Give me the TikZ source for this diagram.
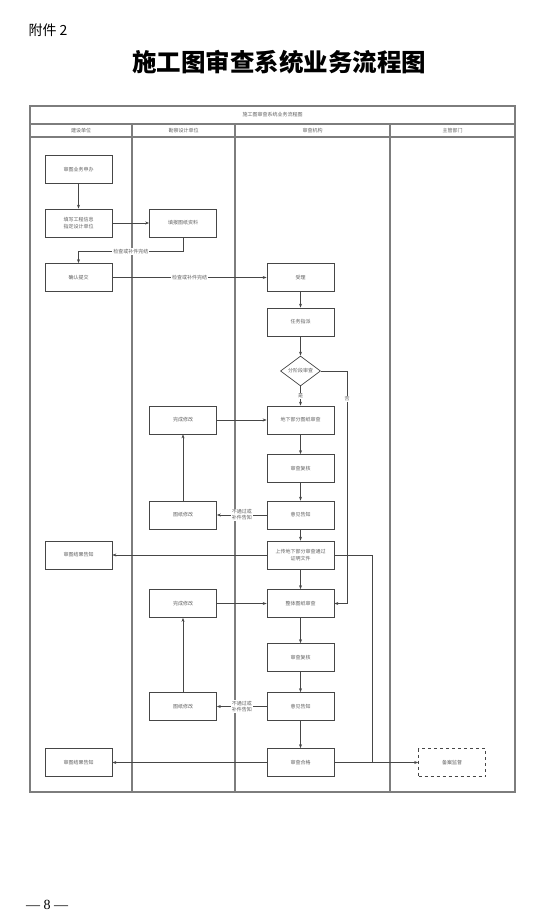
\documentclass[tikz,border=0pt]{standalone}
\usepackage{fontspec}
\setmainfont{Liberation Serif}
\newfontfamily\cjk{Noto Sans CJK SC}
\usetikzlibrary{shapes.geometric, arrows.meta, positioning, calc}
\definecolor{laneline}{RGB}{125,125,125}
\definecolor{boxline}{RGB}{70,70,70}
\definecolor{boxtext}{RGB}{95,95,95}
\tikzset{
    lane/.style={draw=laneline, line width=1.1pt},
    box/.style={draw=boxline, line width=0.7pt, minimum width=67pt, minimum height=28pt,
                inner sep=1pt, align=center, text=boxtext, font=\cjk\fontsize{5}{6.5}\selectfont},
    arr/.style={draw=boxline, line width=0.6pt, -{Stealth[length=4pt,width=3pt]}},
    conn/.style={draw=boxline, line width=0.6pt},
    lbl/.style={fill=white, inner sep=1pt, align=center, text=boxtext, font=\cjk\fontsize{5}{6}\selectfont},
    lanehead/.style={text=boxtext, font=\cjk\fontsize{5}{6}\selectfont}
}

\begin{document}
\begin{tikzpicture}[x=1pt, y=-1pt]
    \useasboundingbox (0,0) rectangle (534,920);

    % page heading
    \node[font=\cjk\fontsize{14}{16}\selectfont] (fujian) at (48,30) {附件 2};
    \node[font=\cjk\bfseries\fontsize{24.5}{28}\selectfont] (bigtitle) at (279,62) {施工图审查系统业务流程图};

    % swimlane frame
    \draw[lane] (30,106) rectangle (515,792);
    \draw[lane] (30,124) -- (515,124);
    \draw[lane, line width=1.6pt] (30,137) -- (515,137);
    \foreach \x in {132,235,390}
        \draw[lane] (\x,124) -- (\x,792);
    \node[lanehead] (tabletitle) at (272.5,115) {施工图审查系统业务流程图};
    \node[lanehead] (jianshe) at (81,130.5) {建设单位};
    \node[lanehead] (kancha) at (183.5,130.5) {勘察设计单位};
    \node[lanehead] (shencha) at (312.5,130.5) {审查机构};
    \node[lanehead] (zhuguan) at (452.5,130.5) {主管部门};

    % nodes
    \node[box] (shenban) at (78.5,169.5) {审图业务申办};
    \node[box] (tianxie) at (78.5,223) {填写工程信息\\指定设计单位};
    \node[box] (tubao) at (183,223) {填报图纸资料};
    \node[box] (queren) at (78.5,277.5) {确认提交};
    \node[box] (shouli) at (300.5,277.5) {受理};
    \node[box] (zhipai) at (300.5,322) {任务指派};
    \node[draw=boxline, line width=0.7pt, diamond, aspect=1.35, minimum width=40pt, minimum height=30pt,
          inner sep=0pt, text=boxtext, font=\cjk\fontsize{5}{6}\selectfont] (fenjieduan) at (300.5,371) {分阶段审查};
    \node[box] (dixia) at (300.5,420) {地下部分图纸审查};
    \node[box] (wancheng1) at (183,420) {完成修改};
    \node[box] (fuhe1) at (300.5,468.5) {审查复核};
    \node[box] (gaozhi1) at (300.5,515) {意见告知};
    \node[box] (xiugai1) at (183,515) {图纸修改};
    \node[box] (shangchuan) at (300.5,555) {上传地下部分审查通过\\证明文件};
    \node[box] (jieguo1) at (78.5,555) {审图结果告知};
    \node[box] (zhengti) at (300.5,603.5) {整体图纸审查};
    \node[box] (wancheng2) at (183,603.5) {完成修改};
    \node[box] (fuhe2) at (300.5,657.5) {审查复核};
    \node[box] (gaozhi2) at (300.5,706.5) {意见告知};
    \node[box] (xiugai2) at (183,706.5) {图纸修改};
    \node[box] (hege) at (300.5,762.5) {审查合格};
    \node[box] (jieguo2) at (78.5,762.5) {审图结果告知};
    \node[box, dashed] (beian) at (452,762.5) {备案监督};
    \coordinate (foujiao) at (347,603.5);
    \coordinate (huihe) at (372,762.5);

    % connectors
    \draw[arr] (shenban) -- (tianxie);
    \draw[arr] (tianxie) -- (tubao);
    \draw[arr] (tubao.south) -- ++(0,14) -| node[lbl, pos=0.25] {检查或补件完结} (queren.north);
    \draw[arr] (queren) -- node[lbl] {检查或补件完结} (shouli);
    \draw[arr] (shouli) -- (zhipai);
    \draw[arr] (zhipai) -- (fenjieduan);
    \draw[arr] (fenjieduan) -- node[lbl] {是} (dixia);
    \draw[conn] (fenjieduan.east) -| node[lbl, pos=0.56] {否} (foujiao);
    \draw[arr] (foujiao) -- (zhengti.east);
    \draw[arr] (wancheng1) -- (dixia);
    \draw[arr] (dixia) -- (fuhe1);
    \draw[arr] (fuhe1) -- (gaozhi1);
    \draw[arr] (gaozhi1) -- node[lbl] {不通过或\\补件告知} (xiugai1);
    \draw[arr] (xiugai1) -- (wancheng1);
    \draw[arr] (gaozhi1) -- (shangchuan);
    \draw[arr] (shangchuan) -- (jieguo1);
    \draw[arr] (shangchuan) -- (zhengti);
    \draw[conn] (shangchuan.east) -| (huihe);
    \draw[arr] (wancheng2) -- (zhengti);
    \draw[arr] (zhengti) -- (fuhe2);
    \draw[arr] (fuhe2) -- (gaozhi2);
    \draw[arr] (gaozhi2) -- node[lbl] {不通过或\\补件告知} (xiugai2);
    \draw[arr] (xiugai2) -- (wancheng2);
    \draw[arr] (gaozhi2) -- (hege);
    \draw[arr] (hege) -- (jieguo2);
    \draw[arr] (hege) -- (beian);

    % page number
    \node[font=\fontsize{14}{16}\selectfont] (yema) at (47,905) {— 8 —};
\end{tikzpicture}
\end{document}
